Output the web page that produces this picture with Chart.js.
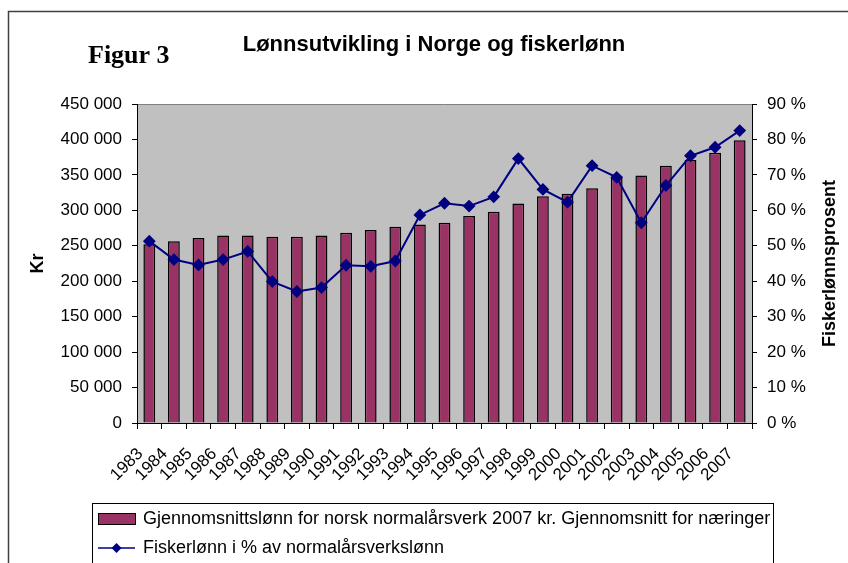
<!DOCTYPE html>
<html>
<head>
<meta charset="utf-8">
<script src="https://cdn.jsdelivr.net/npm/chart.js@4/dist/chart.umd.min.js"></script>
<style>
  html, body { margin: 0; padding: 0; background: #fff; }
  #wrap { width: 848px; height: 563px; }
</style>
</head>
<body>
<div id="wrap"><canvas id="chart" width="848" height="563"></canvas></div>
<script>
// --- data ---
const years = ['1983', '1984', '1985', '1986', '1987', '1988', '1989', '1990', '1991', '1992',
    '1993', '1994', '1995', '1996', '1997', '1998', '1999', '2000', '2001', '2002',
    '2003', '2004', '2005', '2006', '2007'];
const avgWage = [252000, 256500, 260800, 264600, 264600, 262600, 262600, 264600, 268300, 272100,
    276700, 280100, 282400, 291900, 297900, 309800, 319700, 323300, 331000, 345500,
    349300, 362900, 370900, 381200, 398700];
const fisherPct = [51.3, 46.1, 44.6, 46.1, 48.4, 39.9, 37.1, 38.2, 44.5, 44.2,
    45.7, 58.7, 62.0, 61.2, 63.8, 74.6, 65.9, 62.3, 72.6, 69.3,
    56.5, 67.0, 75.4, 77.8, 82.5];

const labelWage = 'Gjennomsnittslønn for norsk normalårsverk 2007 kr. Gjennomsnitt for næringer';
const labelPct = 'Fiskerlønn i % av normalårsverkslønn';

const sans = '"Liberation Sans", Arial, sans-serif';
const serif = '"Liberation Serif", "Times New Roman", serif';
const plum = '#993366';
const navy = '#000080';

Chart.defaults.font.family = sans;
Chart.defaults.font.size = 17;
Chart.defaults.color = '#000';

function spaced(v) {
    return String(v).replace(/\B(?=(\d{3})+(?!\d))/g, ' ');
}

// frame, grey plot area, titles and the boxed legend
const decor = {
    id: 'decor',
    beforeDraw(chart) {
        const { ctx, chartArea: a } = chart;
        ctx.save();
        ctx.fillStyle = '#fff';
        ctx.fillRect(0, 0, chart.width, chart.height);
        ctx.fillStyle = '#c0c0c0';
        ctx.fillRect(a.left, a.top, a.right - a.left, a.bottom - a.top);
        ctx.strokeStyle = '#808080';
        ctx.lineWidth = 1;
        ctx.beginPath();
        ctx.moveTo(a.left, a.top + 0.5);
        ctx.lineTo(a.right, a.top + 0.5);
        ctx.stroke();
        ctx.restore();
    },
    afterDraw(chart) {
        const { ctx, chartArea: a } = chart;
        ctx.save();
        // outer frame
        ctx.strokeStyle = '#404040';
        ctx.lineWidth = 1.5;
        ctx.strokeRect(8.5, 11.5, 900, 600);

        // titles
        ctx.fillStyle = '#000';
        ctx.textBaseline = 'alphabetic';
        ctx.font = 'bold 26px ' + serif;
        ctx.textAlign = 'left';
        ctx.fillText('Figur 3', 88, 63);
        ctx.font = 'bold 22px ' + sans;
        ctx.textAlign = 'center';
        ctx.fillText('Lønnsutvikling i Norge og fiskerlønn', 434, 51);

        // right axis title, reading bottom to top
        ctx.save();
        ctx.translate(830, (a.top + a.bottom) / 2);
        ctx.rotate(-Math.PI / 2);
        ctx.font = 'bold 18px ' + sans;
        ctx.textBaseline = 'middle';
        ctx.fillText('Fiskerlønnsprosent', 0, 0);
        ctx.restore();

        // legend box
        ctx.fillStyle = '#fff';
        ctx.fillRect(92, 503, 681, 80);
        ctx.strokeStyle = '#000';
        ctx.lineWidth = 1;
        ctx.strokeRect(92.5, 503.5, 681, 80);

        ctx.fillStyle = plum;
        ctx.fillRect(98, 513, 37, 11);
        ctx.strokeRect(98.5, 513.5, 37, 11);

        ctx.strokeStyle = navy;
        ctx.lineWidth = 1.5;
        ctx.beginPath();
        ctx.moveTo(98, 548);
        ctx.lineTo(135, 548);
        ctx.stroke();
        ctx.fillStyle = navy;
        ctx.beginPath();
        ctx.moveTo(116.5, 543);
        ctx.lineTo(121.5, 548);
        ctx.lineTo(116.5, 553);
        ctx.lineTo(111.5, 548);
        ctx.closePath();
        ctx.fill();

        ctx.fillStyle = '#000';
        ctx.font = '18px ' + sans;
        ctx.textAlign = 'left';
        ctx.textBaseline = 'middle';
        const ds = chart.data.datasets;
        ctx.fillText(ds[0].label, 143, 519);
        ctx.fillText(ds[1].label, 143, 548);
        ctx.restore();
    }
};

new Chart(document.getElementById('chart').getContext('2d'), {
    type: 'bar',
    data: {
        labels: years,
        datasets: [
            {
                label: labelWage,
                data: avgWage,
                backgroundColor: plum,
                borderColor: '#000',
                borderWidth: 1.5,
                barPercentage: 0.48,
                categoryPercentage: 1,
                yAxisID: 'y',
                order: 2,
            },
            {
                label: labelPct,
                data: fisherPct,
                type: 'line',
                borderColor: navy,
                backgroundColor: navy,
                borderWidth: 2,
                pointStyle: 'rectRot',
                pointRadius: 5,
                pointBackgroundColor: navy,
                pointBorderColor: navy,
                tension: 0,
                fill: false,
                yAxisID: 'y1',
                order: 1,
            }
        ]
    },
    options: {
        responsive: false,
        animation: false,
        layout: { padding: { top: 104, left: 9, right: 0, bottom: 80 } },
        plugins: {
            legend: { display: false },
            tooltip: { enabled: false }
        },
        scales: {
            x: {
                afterFit(s) { s.height = 60; },
                grid: { offset: true, drawOnChartArea: false, drawTicks: true, tickLength: 6, color: '#000' },
                border: { color: '#000', width: 1 },
                ticks: {
                    autoSkip: false, minRotation: 45, maxRotation: 45,
                    labelOffset: -9, padding: 15, font: { size: 17 }, color: '#000'
                }
            },
            y: {
                position: 'left',
                min: 0, max: 450000,
                afterFit(s) { s.width = 128; },
                grid: { drawOnChartArea: false, drawTicks: true, tickLength: 5, color: '#000' },
                border: { color: '#000', width: 1 },
                ticks: { stepSize: 50000, padding: 10, color: '#000', callback: v => spaced(v) },
                title: { display: true, text: 'Kr', font: { size: 18, weight: 'bold' }, padding: { top: 18 } }
            },
            y1: {
                position: 'right',
                min: 0, max: 90,
                afterFit(s) { s.width = 96; },
                grid: { drawOnChartArea: false, drawTicks: true, tickLength: 5, color: '#000' },
                border: { color: '#000', width: 1 },
                ticks: { stepSize: 10, padding: 10, color: '#000', callback: v => v + ' %' }
            }
        }
    },
    plugins: [decor]
});
</script>
</body>
</html>
